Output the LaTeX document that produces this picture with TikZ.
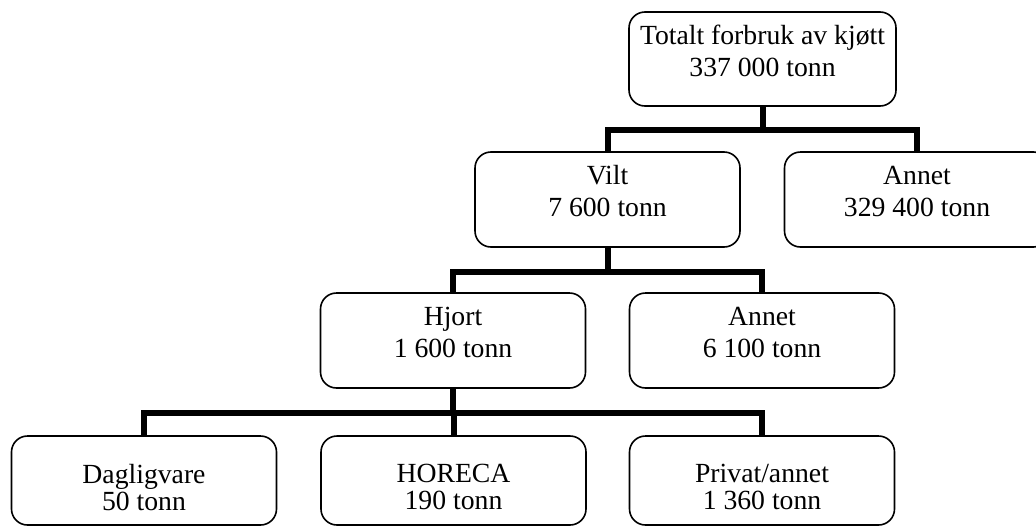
\documentclass[tikz,border=0pt]{standalone}
\usepackage{fontspec}
\setmainfont{Liberation Serif}
\begin{document}
\begin{tikzpicture}[x=1pt, y=-1pt,
  box/.style={draw=black, line width=1.6pt, rounded corners=16pt,
    minimum width=265pt, minimum height=95pt, inner sep=0pt, fill=white},
  lowbox/.style={box, minimum height=89pt},
  txt/.style={anchor=north, align=center, inner sep=0pt, yshift=-10.6pt,
    font=\fontsize{27.7}{32}\selectfont},
  lowtxt/.style={txt, yshift=-17.8pt, font=\fontsize{27.7}{26}\selectfont},
  conn/.style={draw=black, line width=6pt, line join=miter, line cap=butt}]
\useasboundingbox (0,0) rectangle (1036,525);
\clip (0,0) rectangle (1036,525);

% boxes
\node[box, minimum width=267pt, minimum height=94pt] (top) at (762.5,59) {};
\node[box] (vilt)   at (607.5,199.5) {};
\node[box] (annA)   at (917,199.5) {};
\node[box] (hjort)  at (453,340.5) {};
\node[box] (annB)   at (762,340.5) {};
\node[lowbox] (dagl)   at (144,480.5) {};
\node[lowbox] (horeca) at (453.5,480.5) {};
\node[lowbox] (privat) at (762,480.5) {};

% labels
\node[txt] (ttop)    at (top.north)    {\strut Totalt forbruk av kjøtt\\337 000 tonn};
\node[txt] (tvilt)   at (vilt.north)   {\strut Vilt\\7 600 tonn};
\node[txt] (tannA)   at (annA.north)   {\strut Annet\\329 400 tonn};
\node[txt] (thjort)  at (hjort.north)  {\strut Hjort\\1 600 tonn};
\node[txt] (tannB)   at (annB.north)   {\strut Annet\\6 100 tonn};
\node[lowtxt] (tdagl)   at (dagl.north)   {\strut Dagligvare\\50 tonn};
\node[lowtxt] (thoreca) at (horeca.north) {\strut HORECA\\190 tonn};
\node[lowtxt] (tprivat) at (privat.north) {\strut Privat/annet\\1 360 tonn};

% branching points
\coordinate (j1) at (762.5,130);
\coordinate (j2) at (607.5,272);
\coordinate (j3) at (453,413);

% connectors
\draw[conn] (top.south) -- (j1) -| (vilt.north);
\draw[conn] (j1) -| (annA.north);
\draw[conn] (vilt.south) -- (j2) -| (hjort.north);
\draw[conn] (j2) -| (annB.north);
\draw[conn] (hjort.south) -- (j3) -| (dagl.north);
\draw[conn] (j3) -| (horeca.north);
\draw[conn] (j3) -| (privat.north);
\end{tikzpicture}
\end{document}
